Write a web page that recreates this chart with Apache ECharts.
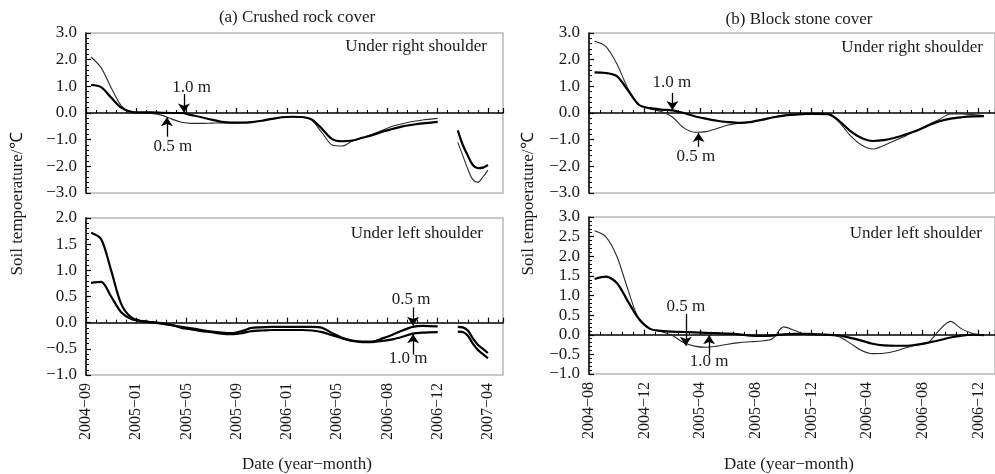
<!DOCTYPE html>
<html><head><meta charset="utf-8">
<script src="https://cdn.jsdelivr.net/npm/echarts@6/dist/echarts.min.js"></script>
<style>html,body{margin:0;padding:0;background:#fff}#c{width:995px;height:474px}</style>
</head><body><div id="c"></div>
<script>
// x positions are in "tick-label interval" units (0 = first label)
const A_TICKS = ['2004\u221209','2005\u221201','2005\u221205','2005\u221209','2006\u221201','2006\u221205','2006\u221208','2006\u221212','2007\u221204'];
const B_TICKS = ['2004\u221208','2004\u221212','2005\u221204','2005\u221208','2005\u221212','2006\u221204','2006\u221208','2006\u221212'];

const aX = [0.1,0.3,0.5,0.7,0.9,1.1,1.3,1.5,1.7,1.9,2.1,2.3,2.5,2.7,2.9,3.1,3.3,3.5,3.7,3.9,4.1,4.3,4.5,4.7,4.9,5.1,5.3,5.5,5.7,5.9,6.1,6.3,6.5,6.7,7.0,7.2,7.4,7.5,7.6,7.7,7.8,7.9,8.0];
const aTop05 = [2.1,1.7,0.95,0.28,0.04,0.0,-0.02,-0.08,-0.22,-0.35,-0.39,-0.39,-0.38,-0.37,-0.38,-0.36,-0.33,-0.29,-0.22,-0.16,-0.14,-0.15,-0.28,-0.75,-1.2,-1.24,-1.05,-0.93,-0.8,-0.65,-0.5,-0.4,-0.32,-0.26,-0.2,null,-1.1,-1.6,-2.1,-2.5,-2.6,-2.4,-2.14];
const aTop10 = [1.05,0.97,0.58,0.2,0.04,0.02,0.02,0.01,0.0,0.0,-0.08,-0.16,-0.25,-0.33,-0.36,-0.36,-0.34,-0.29,-0.22,-0.16,-0.14,-0.15,-0.25,-0.6,-0.98,-1.06,-1.03,-0.93,-0.83,-0.7,-0.6,-0.5,-0.44,-0.39,-0.33,null,-0.65,-1.2,-1.6,-1.95,-2.07,-2.05,-1.95];
const aBot05 = [1.72,1.6,1.0,0.36,0.1,0.03,0.01,-0.02,-0.05,-0.08,-0.11,-0.14,-0.17,-0.19,-0.2,-0.16,-0.1,-0.09,-0.08,-0.08,-0.08,-0.08,-0.08,-0.1,-0.2,-0.29,-0.34,-0.36,-0.36,-0.3,-0.23,-0.15,-0.08,-0.06,-0.07,null,-0.08,-0.09,-0.15,-0.3,-0.42,-0.5,-0.58];
const aBot10 = [0.76,0.78,0.5,0.2,0.07,0.03,0.01,-0.01,-0.04,-0.1,-0.13,-0.16,-0.18,-0.21,-0.22,-0.2,-0.16,-0.15,-0.14,-0.14,-0.14,-0.14,-0.15,-0.18,-0.24,-0.3,-0.35,-0.37,-0.37,-0.35,-0.32,-0.27,-0.21,-0.19,-0.18,null,-0.17,-0.18,-0.25,-0.4,-0.52,-0.6,-0.68];

const bX = [0.1,0.3,0.5,0.7,0.9,1.1,1.3,1.5,1.7,1.9,2.1,2.3,2.5,2.7,2.9,3.1,3.3,3.5,3.7,3.9,4.1,4.3,4.5,4.7,4.9,5.1,5.3,5.5,5.7,5.9,6.1,6.3,6.5,6.7,6.9,7.1];
const bTop05 = [2.69,2.5,1.85,0.92,0.32,0.15,0.06,-0.15,-0.55,-0.72,-0.7,-0.58,-0.45,-0.38,-0.34,-0.25,-0.16,-0.1,-0.06,-0.03,-0.03,-0.03,-0.35,-0.85,-1.2,-1.35,-1.22,-1.03,-0.85,-0.64,-0.44,-0.24,-0.04,-0.04,-0.06,-0.1];
const bTop10 = [1.52,1.5,1.38,0.85,0.3,0.18,0.13,0.1,0.0,-0.12,-0.21,-0.29,-0.34,-0.37,-0.34,-0.26,-0.17,-0.1,-0.06,-0.03,-0.03,-0.04,-0.3,-0.68,-0.94,-1.05,-1.02,-0.93,-0.8,-0.66,-0.47,-0.31,-0.21,-0.16,-0.13,-0.12];
const bBot05 = [2.65,2.5,2.0,1.15,0.38,0.15,0.08,-0.02,-0.2,-0.29,-0.32,-0.29,-0.24,-0.2,-0.18,-0.16,-0.1,0.2,0.11,0.01,0.0,0.0,-0.05,-0.22,-0.4,-0.48,-0.47,-0.42,-0.33,-0.26,-0.2,0.12,0.34,0.15,0.03,0.0];
const bBot10 = [1.42,1.48,1.32,0.85,0.4,0.15,0.1,0.08,0.07,0.06,0.05,0.04,0.03,0.01,-0.02,-0.03,-0.02,0.01,0.02,0.02,0.01,0.0,-0.02,-0.08,-0.15,-0.23,-0.27,-0.28,-0.28,-0.25,-0.2,-0.14,-0.07,-0.02,0.0,-0.01];

// annotations: [label, x, arrowFromY, arrowToY, textX, textY]
const aTopNotes = [['1.0 m',1.95,0.71,0.02,2.1,0.97],['0.5 m',1.61,-0.89,-0.16,1.73,-1.24]];
const aBotNotes = [['0.5 m',6.51,0.29,-0.06,6.47,0.44],['1.0 m',6.51,-0.61,-0.22,6.41,-0.69]];
const bTopNotes = [['1.0 m',1.5,0.75,0.11,1.49,1.16],['0.5 m',1.97,-1.27,-0.75,1.92,-1.65]];
const bBotNotes = [['0.5 m',1.74,0.53,-0.28,1.74,0.71],['1.0 m',2.16,-0.53,-0.01,2.16,-0.67]];

const FONT = "'Liberation Serif','Times New Roman',serif";
const INK = '#1a1a1a';
const chart = echarts.init(document.getElementById('c'));

const pairs = (xs, ys) => xs.map((x, i) => [x, ys[i] === null ? '-' : ys[i]]);
const fmtY = v => (v < 0 ? '\u2212' : '') + Math.abs(v).toFixed(1);

function xAx(idx, max, ticks, labels) {
  return {
    type: 'value', gridIndex: idx, min: 0, max: max, interval: 1,
    axisLine: {lineStyle: {color: '#000', width: 1.5}},
    axisTick: {inside: true, length: 5, lineStyle: {color: '#000', width: 1.2}},
    minorTick: {show: true, splitNumber: 5, length: 3, lineStyle: {color: '#000', width: 1}},
    splitLine: {show: false},
    axisLabel: {show: labels, rotate: 90, margin: 8, fontFamily: FONT, fontSize: 16, color: INK,
      showMaxLabel: false,
      formatter: v => (Math.abs(v - Math.round(v)) < 1e-6 && ticks[Math.round(v)]) ? ticks[Math.round(v)] : ''}
  };
}
function yAx(idx, min, max, interval) {
  return {
    type: 'value', gridIndex: idx, min: min, max: max, interval: interval,
    axisLine: {lineStyle: {color: '#000', width: 1.5}},
    axisTick: {inside: true, length: 5, lineStyle: {color: '#000', width: 1.2}},
    minorTick: {show: true, splitNumber: 5, length: 3, lineStyle: {color: '#000', width: 1}},
    splitLine: {show: false},
    axisLabel: {margin: 9, fontFamily: FONT, fontSize: 17, color: INK, formatter: fmtY}
  };
}
function lineSeries(idx, xs, ys, thick, notes, zeroColor) {
  const s = {
    type: 'line', xAxisIndex: idx, yAxisIndex: idx, data: pairs(xs, ys),
    showSymbol: false, smooth: 0.3, connectNulls: false,
    lineStyle: {color: thick ? '#000' : '#2a2a2a', width: thick ? 2.2 : 1.1},
    silent: true, z: thick ? 3 : 2
  };
  if (notes) {
    s.markLine = {
      silent: true, symbol: ['none', 'arrow'], symbolSize: 9, animation: false,
      label: {show: false},
      lineStyle: {color: '#000', width: 1.3, type: 'solid'},
      data: [[{yAxis: 0, xAxis: 0, symbol: 'none', lineStyle: {color: zeroColor, width: 1.2}},
              {yAxis: 0, xAxis: 99, symbol: 'none'}]]
        .concat(notes.map(n => [{coord: [n[1], n[2]], symbol: 'none'}, {coord: [n[1], n[3]], symbol: 'arrow'}]))
    };
    s.markPoint = {
      silent: true, symbol: 'circle', symbolSize: 1, itemStyle: {color: 'rgba(0,0,0,0)'},
      label: {show: true, position: 'inside', formatter: '{b}', fontFamily: FONT, fontSize: 17, color: INK},
      data: notes.map(n => ({name: n[0], coord: [n[4], n[5]]}))
    };
  }
  return s;
}

const A_MAX = 8.3, B_MAX = 7.3;
const gridStyle = {show: true, borderColor: '#b8b8b8', borderWidth: 1.5, backgroundColor: 'transparent'};

function txt(text, x, y, align, rot) {
  return {type: 'text', x: x, y: y, rotation: rot || 0,
    style: {text: text, fill: INK, font: "17px " + FONT, textAlign: align || 'center', textVerticalAlign: 'middle'}};
}

chart.setOption({
  animation: false,
  grid: [
    Object.assign({left: 86, top: 33, width: 417, height: 160}, gridStyle),
    Object.assign({left: 86, top: 218, width: 417, height: 157}, gridStyle),
    Object.assign({left: 589, top: 33, width: 408, height: 160}, gridStyle),
    Object.assign({left: 589, top: 217, width: 408, height: 157}, gridStyle)
  ],
  xAxis: [xAx(0, A_MAX, A_TICKS, false), xAx(1, A_MAX, A_TICKS, true), xAx(2, B_MAX, B_TICKS, false), xAx(3, B_MAX, B_TICKS, true)],
  yAxis: [yAx(0, -3, 3, 1), yAx(1, -1, 2, 0.5), yAx(2, -3, 3, 1), yAx(3, -1, 3, 0.5)],
  series: [
    lineSeries(0, aX, aTop05, false, aTopNotes, '#000'),
    lineSeries(0, aX, aTop10, true),
    lineSeries(1, aX, aBot05, true, aBotNotes, '#000'),
    lineSeries(1, aX, aBot10, true),
    lineSeries(2, bX, bTop05, false, bTopNotes, '#000'),
    lineSeries(2, bX, bTop10, true),
    lineSeries(3, bX, bBot05, false, bBotNotes, '#777'),
    lineSeries(3, bX, bBot10, true)
  ],
  graphic: [
    txt('(a) Crushed rock cover', 297, 18),
    txt('(b) Block stone cover', 799, 20),
    txt('Under right shoulder', 487, 47, 'right'),
    txt('Under left shoulder', 483, 234, 'right'),
    txt('Under right shoulder', 983, 48, 'right'),
    txt('Under left shoulder', 982, 234, 'right'),
    txt('Date (year\u2212month)', 307, 465),
    txt('Date (year\u2212month)', 789, 465),
    txt('Soil tempoerature/\u2103', 18, 204, 'center', Math.PI / 2),
    txt('Soil tempoerature/\u2103', 529, 204, 'center', Math.PI / 2)
  ]
});
</script></body></html>
